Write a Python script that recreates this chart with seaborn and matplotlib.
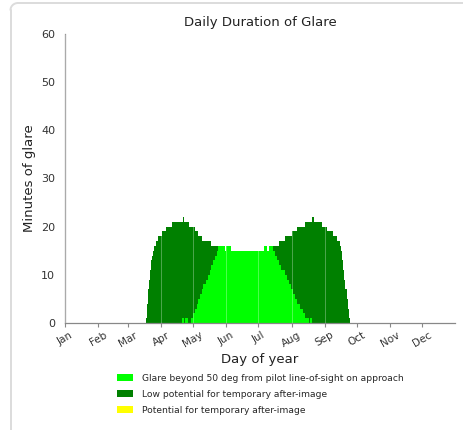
import numpy as np
import pandas as pd
import matplotlib
matplotlib.use("Agg")
import matplotlib.pyplot as plt
from matplotlib.patches import Patch
from matplotlib.lines import Line2D
import seaborn as sns

# ---------------- data ----------------
title = "Daily Duration of Glare"
x_label = "Day of year"
y_label = "Minutes of glare"
month_labels = ["Jan", "Feb", "Mar", "Apr", "May", "Jun",
                "Jul", "Aug", "Sep", "Oct", "Nov", "Dec"]
month_start_days = [0, 31, 59, 90, 120, 151, 181, 212, 243, 273, 304, 334]
series_labels = ["Glare beyond 50 deg from pilot line-of-sight on approach",
                 "Low potential for temporary after-image",
                 "Potential for temporary after-image"]
series_colors = ["#00ff00", "#008000", "#ffff00"]

first_day = 76  # first day with glare (day index, Jan 1 = 0)

# total minutes of glare per day (days 76 .. 266)
total_minutes = [
    1, 4, 7, 9, 11, 13, 14, 15, 16, 16, 17, 17, 18, 18, 18,          # 76-90
    19, 19, 19, 19, 20, 20, 20, 20, 20, 20,                          # 91-100
    21, 21, 21, 21, 21, 21, 21, 21, 21, 21,                          # 101-110
    22, 21, 21, 21, 21, 21,                                          # 111-116
    20, 20, 20, 20, 20, 19, 19, 19, 18, 18, 18, 18,                  # 117-128
    17, 17, 17, 17, 17, 17, 17, 17,                                  # 129-136
    16, 16, 16, 16, 16, 16, 16,                                      # 137-143
    16, 16, 16, 16, 16, 16, 15, 16, 16, 16, 16, 16,                  # 144-155
    15, 15, 15, 15, 15, 15, 15, 15, 15, 15,                          # 156-165
    15, 15, 15, 15, 15, 15, 15, 15, 15, 15,                          # 166-175
    15, 15, 15, 15, 15, 15, 15, 15, 15, 15, 15,                      # 176-186
    16, 16, 16, 15, 16, 16, 16, 16, 16, 16, 16, 16, 16, 16,          # 187-200
    17, 17, 17, 17, 17, 18, 18, 18, 18, 18, 18, 18,                  # 201-212
    19, 19, 19, 19, 19, 20, 20, 20, 20, 20, 20, 20,                  # 213-224
    21, 21, 21, 21, 21, 21, 21, 22, 22,                              # 225-233
    21, 21, 21, 21, 21, 21, 21,                                      # 234-240
    20, 20, 20, 20, 20, 19, 19, 19, 19, 19,                          # 241-250
    18, 18, 18, 18, 17, 17, 17, 16, 15, 13, 11, 9, 7, 5, 3, 1,       # 251-266
]

# minutes of glare beyond 50 deg (bottom, bright green) per day (days 76 .. 266)
beyond_50_minutes = [
    0, 0, 0, 0, 0, 0, 0, 0, 0, 0, 0, 0, 0, 0, 0,                     # 76-90
    0, 0, 0, 0, 0, 0, 0, 0, 0, 0,                                    # 91-100
    0, 0, 0, 0, 0, 0, 0, 0, 0, 1,                                    # 101-110
    1, 0, 1, 1, 1, 0,                                                # 111-116
    0, 1, 1, 2, 2, 3, 3, 4, 5, 5, 6, 6,                              # 117-128
    7, 8, 8, 9, 9, 10, 10, 11,                                       # 129-136
    12, 12, 13, 13, 14, 14, 15,                                      # 137-143
    16, 16, 16, 16, 16, 16, 15, 16, 16, 16, 16, 16,                  # 144-155
    15, 15, 15, 15, 15, 15, 15, 15, 15, 15,                          # 156-165
    15, 15, 15, 15, 15, 15, 15, 15, 15, 15,                          # 166-175
    15, 15, 15, 15, 15, 15, 15, 15, 15, 15, 15,                      # 176-186
    16, 16, 16, 15, 16, 16, 16, 16, 15, 15, 14, 14, 13, 13,          # 187-200
    12, 12, 11, 11, 11, 10, 10, 9, 9, 8, 8, 7,                       # 201-212
    7, 6, 6, 5, 5, 4, 4, 3, 3, 3, 2, 2,                              # 213-224
    1, 1, 1, 1, 0, 1, 1, 0, 0,                                       # 225-233
    0, 0, 0, 0, 0, 0, 0,                                             # 234-240
    0, 0, 0, 0, 0, 0, 0, 0, 0, 0,                                    # 241-250
    0, 0, 0, 0, 0, 0, 0, 0, 0, 0, 0, 0, 0, 0, 0, 0,                  # 251-266
]

y_ticks = [0, 10, 20, 30, 40, 50, 60]

# ---------------- plot ----------------
sns.set_style("white")
plt.rcParams["font.family"] = ["DejaVu Sans"]

days = np.arange(first_day, first_day + len(total_minutes))
df = pd.DataFrame({"day": days,
                   "total": total_minutes,
                   "beyond": beyond_50_minutes})

W, H = 463, 430
fig = plt.figure(figsize=(W / 100, H / 100), dpi=100)
ax = fig.add_axes([65 / W, 1 - 323 / H, 390 / W, 289 / H])

# stacked: dark green total first, bright green bottom part over it
sns.barplot(data=df, x="day", y="total", native_scale=True, orient="x",
            color=series_colors[1], saturation=1, width=1, linewidth=0,
            errorbar=None, antialiased=False, ax=ax)
sns.barplot(data=df, x="day", y="beyond", native_scale=True, orient="x",
            color=series_colors[0], saturation=1, width=1, linewidth=0,
            errorbar=None, antialiased=False, ax=ax)

# faint month lines over the bars
ax.vlines(month_start_days, 0, 60, colors="white", alpha=0.35, lw=0.6, zorder=3)

ax.set_xlim(0, 365)
ax.set_ylim(0, 60)
ax.set_xticks(month_start_days)
ax.set_xticklabels(month_labels, rotation=30, ha="center", fontsize=7.5, color="#333333")
ax.set_yticks(y_ticks)
ax.set_yticklabels([str(v) for v in y_ticks], fontsize=8, color="#333333")
ax.tick_params(axis="x", length=3, width=0.8, color="#888888", pad=2, bottom=True)
ax.tick_params(axis="y", length=0, pad=7)
for s in ["top", "right"]:
    ax.spines[s].set_visible(False)
for s in ["left", "bottom"]:
    ax.spines[s].set_color("#888888")
    ax.spines[s].set_linewidth(0.9)

ax.set_title(title, fontsize=9.5, pad=6, color="#222222")
ax.set_xlabel(x_label, fontsize=9.5, labelpad=3, color="#222222")
ax.set_ylabel(y_label, fontsize=9.5, labelpad=4, color="#222222")

handles = [Patch(facecolor=c, edgecolor="none") for c in series_colors]
fig.legend(handles, series_labels, loc="upper left",
           bbox_to_anchor=(117 / W, 1 - 374 / H), frameon=False,
           fontsize=6.6, handlelength=1.75, handleheight=0.75,
           handletextpad=1.0, labelspacing=0.75, borderpad=0, borderaxespad=0)

# card border: left and top edges only (the rest lies outside the picture)
fig.add_artist(Line2D([10.5 / W, 10.5 / W], [0, 1 - 10 / H],
                      transform=fig.transFigure, color="#dcdcdc", lw=1.4))
fig.add_artist(Line2D([18 / W, 1], [1 - 3 / H, 1 - 3 / H],
                      transform=fig.transFigure, color="#dcdcdc", lw=1.4))
theta = np.linspace(np.pi / 2, np.pi, 12)
fig.add_artist(Line2D((18 + 7.5 * np.cos(theta)) / W,
                      1 - (10 - 7 * np.sin(theta)) / H,
                      transform=fig.transFigure, color="#dcdcdc", lw=1.4))

fig.savefig("out.png", dpi=100)
